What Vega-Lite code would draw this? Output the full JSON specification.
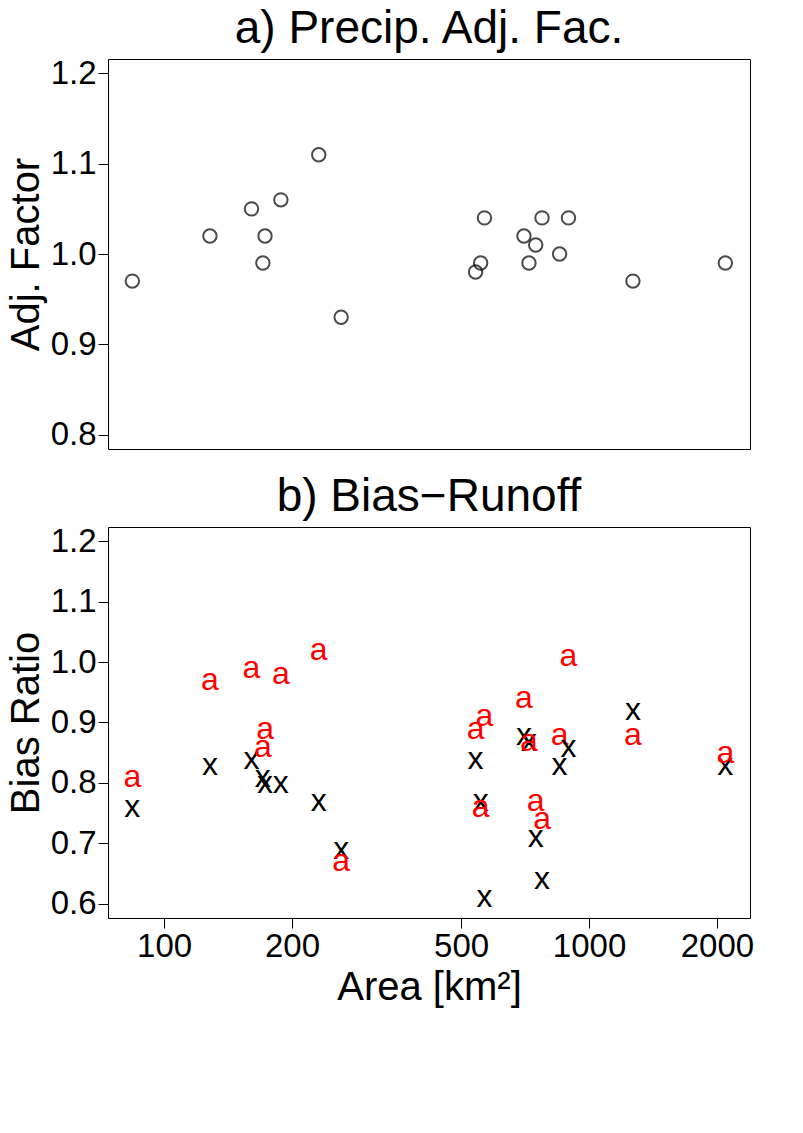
{
  "$schema": "https://vega.github.io/schema/vega-lite/v6.json",
  "data": {
    "values": [
      {"area": 84.2, "adj_factor": 0.97, "raw_bias": 0.76, "adj_bias": 0.81},
      {"area": 128.2, "adj_factor": 1.02, "raw_bias": 0.83, "adj_bias": 0.97},
      {"area": 160.6, "adj_factor": 1.05, "raw_bias": 0.84, "adj_bias": 0.99},
      {"area": 172.8, "adj_factor": 1.02, "raw_bias": 0.80, "adj_bias": 0.89},
      {"area": 170.8, "adj_factor": 0.99, "raw_bias": 0.81, "adj_bias": 0.86},
      {"area": 188.3, "adj_factor": 1.06, "raw_bias": 0.80, "adj_bias": 0.98},
      {"area": 231.2, "adj_factor": 1.11, "raw_bias": 0.77, "adj_bias": 1.02},
      {"area": 261.0, "adj_factor": 0.93, "raw_bias": 0.69, "adj_bias": 0.67},
      {"area": 567.4, "adj_factor": 1.04, "raw_bias": 0.61, "adj_bias": 0.91},
      {"area": 555.9, "adj_factor": 0.99, "raw_bias": 0.77, "adj_bias": 0.76},
      {"area": 540.7, "adj_factor": 0.98, "raw_bias": 0.84, "adj_bias": 0.89},
      {"area": 702.8, "adj_factor": 1.02, "raw_bias": 0.88, "adj_bias": 0.94},
      {"area": 749.0, "adj_factor": 1.01, "raw_bias": 0.71, "adj_bias": 0.77},
      {"area": 722.1, "adj_factor": 0.99, "raw_bias": 0.87, "adj_bias": 0.87},
      {"area": 775.1, "adj_factor": 1.04, "raw_bias": 0.64, "adj_bias": 0.74},
      {"area": 852.6, "adj_factor": 1.00, "raw_bias": 0.83, "adj_bias": 0.88},
      {"area": 894.6, "adj_factor": 1.04, "raw_bias": 0.86, "adj_bias": 1.01},
      {"area": 1268.5, "adj_factor": 0.97, "raw_bias": 0.92, "adj_bias": 0.88},
      {"area": 2093.0, "adj_factor": 0.99, "raw_bias": 0.83, "adj_bias": 0.85}
    ]
  },
  "config": {
    "font": "Liberation Sans",
    "view": {"stroke": "#000000"},
    "axis": {"grid": false, "domain": false, "tickColor": "#000000", "tickSize": 10, "labelColor": "#000000", "labelFontSize": 33, "titleFontSize": 40, "titleFontWeight": "normal", "titleColor": "#000000"},
    "title": {"fontSize": 46, "fontWeight": "normal", "color": "#000000"}
  },
  "vconcat": [
    {
      "width": 642,
      "height": 390,
      "title": "a) Precip. Adj. Fac.",
      "mark": {"type": "point", "filled": false, "color": "#000000", "size": 180},
      "encoding": {
        "x": {"field": "area", "type": "quantitative", "scale": {"type": "log", "domain": [73.8, 2392]}, "axis": null},
        "y": {"field": "adj_factor", "type": "quantitative", "scale": {"domain": [0.784, 1.216]}, "axis": {"values": [0.8, 0.9, 1.0, 1.1, 1.2], "format": ".1f", "title": "Adj. Factor"}}
      }
    },
    {
      "width": 642,
      "height": 391,
      "title": "b) Bias−Runoff",
      "transform": [{"fold": ["raw_bias", "adj_bias"], "as": ["series", "bias"]}],
      "mark": {"type": "text", "fontSize": 32},
      "encoding": {
        "x": {"field": "area", "type": "quantitative", "scale": {"type": "log", "domain": [73.8, 2392]}, "axis": {"values": [100, 200, 500, 1000, 2000], "format": "d", "title": "Area [km²]"}},
        "y": {"field": "bias", "type": "quantitative", "scale": {"domain": [0.576, 1.224]}, "axis": {"values": [0.6, 0.7, 0.8, 0.9, 1.0, 1.1, 1.2], "format": ".1f", "title": "Bias Ratio"}},
        "text": {"condition": {"test": "datum.series === 'raw_bias'", "value": "x"}, "value": "a"},
        "color": {"field": "series", "type": "nominal", "scale": {"domain": ["raw_bias", "adj_bias"], "range": ["#000000", "#FF0000"]}, "legend": null}
      }
    }
  ]
}
